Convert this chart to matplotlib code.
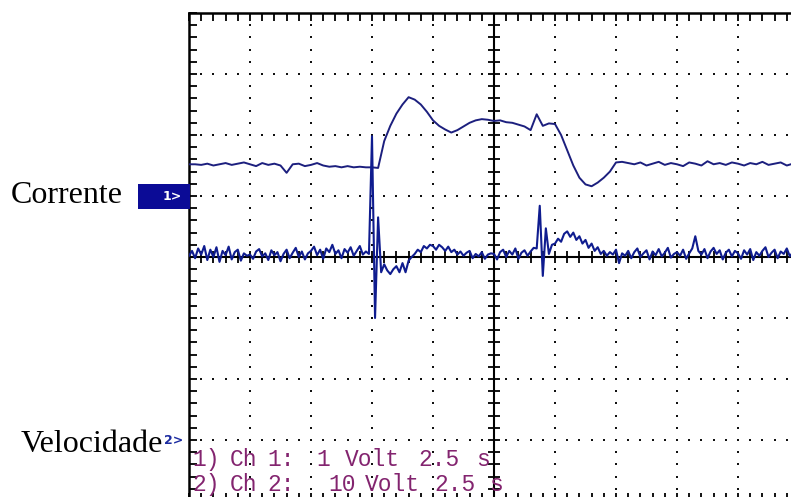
import numpy as np
import matplotlib
matplotlib.use("Agg")
import matplotlib.pyplot as plt
from matplotlib.patches import Rectangle

W, H = 791, 497

# ---------------- data (in screen divisions) ----------------
# upper trace, sampled every 0.1 division (x = 0 .. 10)
upper_step = 0.1
upper_vals = [
    1.52, 1.52, 1.51, 1.53, 1.50, 1.52, 1.54, 1.51, 1.53, 1.55,
    1.52, 1.49, 1.54, 1.51, 1.53, 1.50, 1.38, 1.52, 1.53, 1.49,
    1.51, 1.54, 1.50, 1.48, 1.49, 1.47, 1.49, 1.47, 1.48, 1.47,
    1.47, 1.46, 1.90, 2.15, 2.35, 2.50, 2.62, 2.58, 2.50, 2.38,
    2.24, 2.15, 2.09, 2.04, 2.08, 2.14, 2.20, 2.24, 2.26, 2.25,
    2.23, 2.24, 2.21, 2.20, 2.17, 2.14, 2.08, 2.34, 2.15, 2.19,
    2.18, 2.00, 1.75, 1.50, 1.30, 1.19, 1.16, 1.22, 1.30, 1.40,
    1.55, 1.56, 1.54, 1.52, 1.55, 1.50, 1.53, 1.56, 1.51, 1.54,
    1.52, 1.49, 1.55, 1.53, 1.50, 1.57, 1.52, 1.54, 1.51, 1.55,
    1.53, 1.50, 1.54, 1.52, 1.56, 1.51, 1.53, 1.55, 1.50, 1.53,
    1.52,
]

# lower trace, sampled every 0.05 division (x = 0 .. 10)
lower_step = 0.05
lower_vals = [
    0.02, 0.10, -0.02, 0.14, 0.04, 0.18, -0.05, 0.12, 0.00, 0.16,
    -0.08, 0.10, 0.03, 0.17, -0.04, 0.08, 0.12, -0.06, 0.06, 0.02,
    0.04, -0.03, 0.09, 0.13, 0.01, 0.06, -0.05, 0.11, 0.03, 0.08,
    -0.07, 0.05, 0.12, -0.02, 0.07, 0.15, 0.00, 0.09, -0.04, 0.06,
    0.10, 0.17, 0.03, 0.12, -0.03, 0.14, 0.08, 0.20, 0.05, 0.11,
    -0.02, 0.13, 0.07, 0.16, 0.02, 0.10, 0.18, 0.04, 0.09, 0.05,
    1.98, -1.00, 0.65, -0.25, -0.12, -0.22, -0.28, -0.20, -0.15, -0.25,
    -0.10, -0.25, -0.06, 0.00, 0.05, 0.12, 0.08, 0.18, 0.14, 0.20,
    0.18, 0.12, 0.20, 0.16, 0.10, 0.17, 0.08, 0.12, 0.04, 0.09,
    0.02, 0.07, 0.10, -0.02, 0.05, 0.01, 0.08, -0.03, 0.04, 0.06,
    0.05, -0.04, 0.08, 0.12, 0.00, 0.10, 0.04, 0.14, -0.03, 0.07,
    0.11, 0.02, 0.09, 0.15, 0.14, 0.84, -0.31, 0.47, 0.05, 0.20,
    0.22, 0.30, 0.25, 0.38, 0.42, 0.33, 0.40, 0.28, 0.34, 0.22,
    0.28, 0.15, 0.22, 0.10, 0.16, 0.05, 0.10, 0.02, 0.08, 0.04,
    0.12, -0.10, 0.06, 0.02, 0.10, -0.02, 0.08, 0.14, 0.00, 0.06,
    0.11, -0.04, 0.09, 0.03, 0.13, 0.01, 0.07, 0.15, -0.01, 0.05,
    0.08, 0.02, 0.12, -0.03, 0.06, 0.14, 0.34, 0.10, 0.04, 0.13,
    -0.02, 0.09, 0.15, 0.05, 0.11, -0.04, 0.07, 0.12, 0.01, 0.10,
    0.06, -0.03, 0.11, 0.04, 0.13, -0.05, 0.08, 0.02, 0.10, 0.16,
    0.00, 0.07, 0.12, -0.02, 0.09, 0.05, 0.14, 0.01, 0.08, 0.11,
    0.06,
]

channel_labels = ["Corrente", "Velocidade"]
marker_labels = ["1>", "2>"]
info_line1 = [("1)", 192), ("Ch", 230), ("1:", 267), ("1", 316), ("Volt", 345), ("2.5", 418), ("s", 476)]
info_line2 = [("2)", 192), ("Ch", 230), ("2:", 267), ("10", 328), ("Volt", 365), ("2.5", 434), ("s", 489)]

# ---------------- figure ----------------
fig = plt.figure(figsize=(W / 100, H / 100), dpi=100)
fig.patch.set_facecolor("white")

def fx(x):
    return x / W

def fy(y):
    return 1 - y / H

# graticule: left 189px, top 13px, 61px per division, 10 x 8 divisions
left, top, div = 189, 13, 61
ax = fig.add_axes([fx(left), fy(top + 8 * div), 10 * div / W, 8 * div / H])
ax.set_xlim(0, 10)
ax.set_ylim(-4, 4)
ax.set_facecolor("white")
for s in ax.spines.values():
    s.set_linewidth(1.8)
    s.set_color("black")
ax.set_xticks(np.arange(0, 10.01, 1))
ax.set_yticks(np.arange(-4, 4.01, 1))
ax.set_xticks(np.arange(0, 10.01, 0.2), minor=True)
ax.set_yticks(np.arange(-4, 4.01, 0.2), minor=True)
ax.tick_params(which="both", direction="in", length=5.5, width=1.3,
               top=True, right=True, labelbottom=False, labelleft=False)

# dotted graticule
yy = np.arange(-4, 4.01, 0.2)
xx = np.arange(0, 10.01, 0.2)
for gx in [1, 2, 3, 4, 6, 7, 8, 9]:
    ax.plot(np.full_like(yy, gx), yy, ls="none", marker="s", ms=1.9,
            color="#111111", mew=0, zorder=1)
for gy in [-3, -2, -1, 1, 2, 3]:
    ax.plot(xx, np.full_like(xx, gy), ls="none", marker="s", ms=1.9,
            color="#111111", mew=0, zorder=1)

# centre cross with ticks
ax.axvline(5, color="black", lw=1.5, zorder=1)
ax.axhline(0, color="black", lw=1.5, zorder=1)
ax.plot(np.full_like(yy, 5), yy, ls="none", marker="_", ms=9, mew=1.3,
        color="black", zorder=1)
ax.plot(xx, np.zeros_like(xx), ls="none", marker="|", ms=8, mew=1.3,
        color="black", zorder=1)

# traces
ux = np.arange(len(upper_vals)) * upper_step
lx = np.arange(len(lower_vals)) * lower_step
ax.plot(ux, upper_vals, color="#1c1f7e", lw=1.4, zorder=3)
ax.plot(lx, lower_vals, color="#0f1c8f", lw=1.5, zorder=3)

# info text (scope settings)
for items, base in [(info_line1, 466), (info_line2, 491)]:
    for txt, xp in items:
        fig.text(fx(xp), fy(base), txt, color="#83246f", fontsize=16.5,
                 family="Liberation Mono", ha="left", va="baseline", zorder=2)

# channel labels
fig.text(fx(123), fy(203), channel_labels[0], fontsize=23,
         family="Liberation Serif", ha="right", va="baseline")
fig.text(fx(163), fy(452), channel_labels[1], fontsize=23,
         family="Liberation Serif", ha="right", va="baseline")

# channel 1 marker box
fig.patches.append(Rectangle((fx(138), fy(209)), 52 / W, 25 / H,
                             transform=fig.transFigure, facecolor="#0b0b96",
                             edgecolor="none", zorder=0))
fig.text(fx(172), fy(197), marker_labels[0], color="white", fontsize=9,
         fontweight="bold", ha="center", va="center")
fig.text(fx(174), fy(440), marker_labels[1], color="#1a2aa0", fontsize=9,
         fontweight="bold", ha="center", va="center")

fig.savefig("out.png", dpi=100)
